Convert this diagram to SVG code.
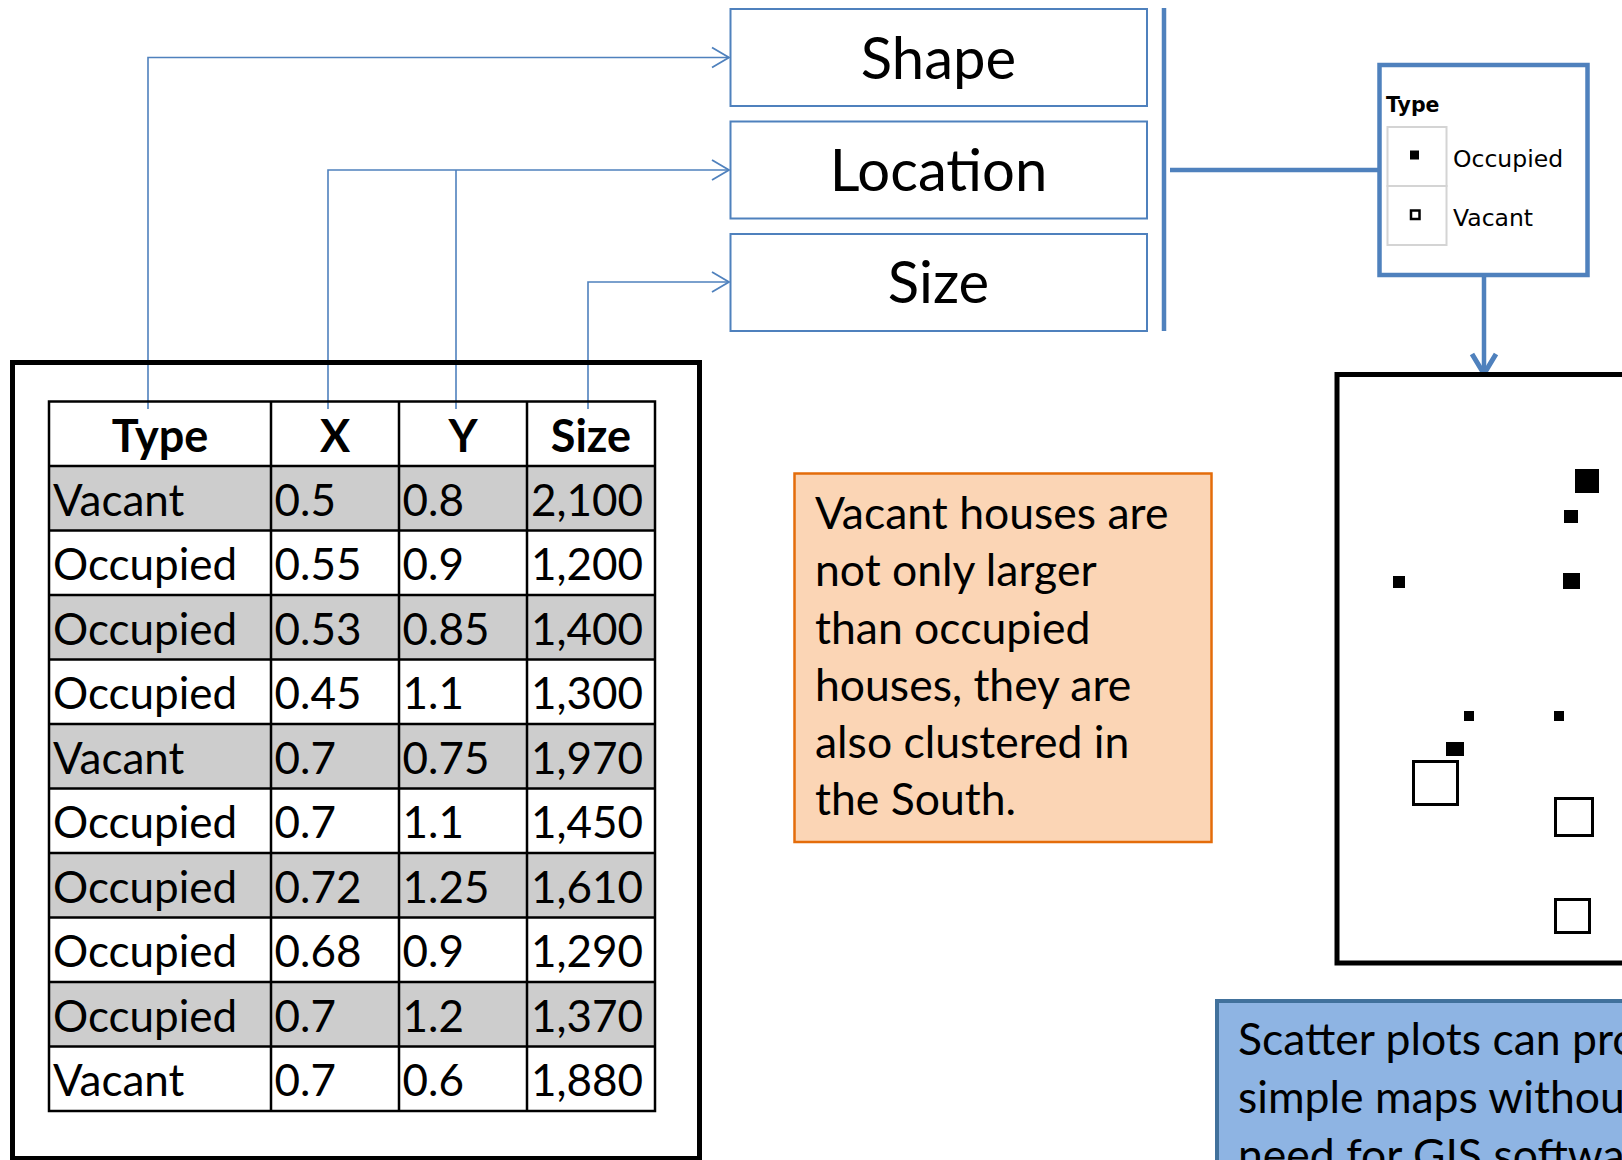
<svg xmlns="http://www.w3.org/2000/svg" width="1622" height="1160" viewBox="0 0 1622 1160">
<defs>
<style>
.t{font-family:Lato,"Liberation Sans",sans-serif;fill:#000}
.cell{font-size:44px}
.hdr{font-size:45px;font-weight:700;text-anchor:middle}
.box{fill:#fff;stroke:#4F81BD;stroke-width:2}
.big{font-size:58px;text-anchor:middle}
.note{font-size:44.5px}
.conn{fill:none;stroke:#4F81BD;stroke-width:1.6}
.thick{fill:none;stroke:#4F81BD;stroke-width:4.5}
.grid{fill:none;stroke:#000;stroke-width:2.5}
.gray{fill:#CDCDCD}
.lg{font-family:"DejaVu Sans",sans-serif;fill:#000}
</style>
<marker id="open" markerUnits="userSpaceOnUse" markerWidth="22" markerHeight="24" viewBox="0 0 22 24" refX="19" refY="12" orient="auto">
<path d="M2,2 L19,12 L2,22" fill="none" stroke="#4F81BD" stroke-width="1.8"/>
</marker>
<marker id="thickhead" markerUnits="userSpaceOnUse" markerWidth="30" markerHeight="30" viewBox="0 0 30 30" refX="24" refY="15" orient="auto">
<path d="M4,3 L24,15 L4,27" fill="none" stroke="#4F81BD" stroke-width="5"/>
</marker>
</defs>

<g id="connectors">
<path class="conn" d="M148,409 V57.5 H729" marker-end="url(#open)"/>
<path class="conn" d="M328,409 V170 H729" marker-end="url(#open)"/>
<path class="conn" d="M456,409 V170"/>
<path class="conn" d="M588,409 V282 H729" marker-end="url(#open)"/>
<path class="thick" d="M1164,8 V331"/>
<path class="thick" d="M1170,170 H1379"/>
<path class="thick" d="M1484,276 V374" marker-end="url(#thickhead)"/>
</g>

<g id="table">
<rect x="12.5" y="362.5" width="687" height="796" fill="none" stroke="#000" stroke-width="5"/>
<rect class="gray" x="49" y="466" width="606" height="64.5"/>
<rect class="gray" x="49" y="595" width="606" height="64.5"/>
<rect class="gray" x="49" y="724" width="606" height="64.5"/>
<rect class="gray" x="49" y="853" width="606" height="64.5"/>
<rect class="gray" x="49" y="982" width="606" height="64.5"/>
<rect class="grid" x="49" y="401.5" width="606" height="709.5"/>
<path class="grid" d="M271,401.5 V1111 M399,401.5 V1111 M527,401.5 V1111 M49,466 H655 M49,530.5 H655 M49,595 H655 M49,659.5 H655 M49,724 H655 M49,788.5 H655 M49,853 H655 M49,917.5 H655 M49,982 H655 M49,1046.5 H655"/>
<g class="t hdr">
<text x="160" y="452">Type</text>
<text x="335" y="452">X</text>
<text x="463" y="452">Y</text>
<text x="591" y="452">Size</text>
</g>
<g class="t cell">
<text x="53" y="515.5">Vacant</text><text x="274.5" y="515.5">0.5</text><text x="402.5" y="515.5">0.8</text><text x="531" y="515.5">2,100</text>
<text x="53" y="580">Occupied</text><text x="274.5" y="580">0.55</text><text x="402.5" y="580">0.9</text><text x="531" y="580">1,200</text>
<text x="53" y="644.5">Occupied</text><text x="274.5" y="644.5">0.53</text><text x="402.5" y="644.5">0.85</text><text x="531" y="644.5">1,400</text>
<text x="53" y="709">Occupied</text><text x="274.5" y="709">0.45</text><text x="402.5" y="709">1.1</text><text x="531" y="709">1,300</text>
<text x="53" y="773.5">Vacant</text><text x="274.5" y="773.5">0.7</text><text x="402.5" y="773.5">0.75</text><text x="531" y="773.5">1,970</text>
<text x="53" y="838">Occupied</text><text x="274.5" y="838">0.7</text><text x="402.5" y="838">1.1</text><text x="531" y="838">1,450</text>
<text x="53" y="902.5">Occupied</text><text x="274.5" y="902.5">0.72</text><text x="402.5" y="902.5">1.25</text><text x="531" y="902.5">1,610</text>
<text x="53" y="967">Occupied</text><text x="274.5" y="967">0.68</text><text x="402.5" y="967">0.9</text><text x="531" y="967">1,290</text>
<text x="53" y="1031.5">Occupied</text><text x="274.5" y="1031.5">0.7</text><text x="402.5" y="1031.5">1.2</text><text x="531" y="1031.5">1,370</text>
<text x="53" y="1096">Vacant</text><text x="274.5" y="1096">0.7</text><text x="402.5" y="1096">0.6</text><text x="531" y="1096">1,880</text>
</g>
</g>

<g id="shape-box">
<rect class="box" x="730.5" y="9" width="416.5" height="97"/>
<text class="t big" x="938.5" y="78.5">Shape</text>
</g>
<g id="location-box">
<rect class="box" x="730.5" y="121.5" width="416.5" height="97"/>
<text class="t big" x="938.5" y="191">Location</text>
</g>
<g id="size-box">
<rect class="box" x="730.5" y="234" width="416.5" height="97"/>
<text class="t big" x="938.5" y="303">Size</text>
</g>

<g id="legend">
<rect x="1379.5" y="65" width="208" height="210" fill="#fff" stroke="#4F81BD" stroke-width="4.5"/>
<text class="lg" x="1386" y="112" font-size="20.5" font-weight="700">Type</text>
<rect x="1387.5" y="127" width="59" height="59" fill="none" stroke="#D4D4D4" stroke-width="2"/>
<rect x="1387.5" y="186" width="59" height="59" fill="none" stroke="#D4D4D4" stroke-width="2"/>
<rect x="1410" y="150.5" width="9" height="9" fill="#000"/>
<rect x="1411" y="210.5" width="8.5" height="8.5" fill="none" stroke="#000" stroke-width="2.5"/>
<text class="lg" x="1453" y="167" font-size="23.5">Occupied</text>
<text class="lg" x="1453" y="226" font-size="23.5">Vacant</text>
</g>

<g id="scatter-plot">
<rect x="1337" y="374.5" width="400" height="588.5" fill="#fff" stroke="#000" stroke-width="5"/>
<rect x="1575" y="469" width="24" height="24" fill="#000"/>
<rect x="1564" y="510" width="14" height="13" fill="#000"/>
<rect x="1393" y="576" width="12" height="12" fill="#000"/>
<rect x="1563" y="573" width="17" height="16" fill="#000"/>
<rect x="1464" y="711" width="10" height="10" fill="#000"/>
<rect x="1554" y="711" width="10" height="10" fill="#000"/>
<rect x="1446" y="742" width="18" height="14" fill="#000"/>
<rect x="1413.5" y="761.5" width="44" height="43" fill="none" stroke="#000" stroke-width="3"/>
<rect x="1555.5" y="798.5" width="37" height="37" fill="none" stroke="#000" stroke-width="3"/>
<rect x="1555.5" y="899.5" width="34" height="33" fill="none" stroke="#000" stroke-width="3"/>
</g>

<g id="note-orange">
<rect x="794.5" y="473.5" width="417" height="368.5" fill="#FBD5B5" stroke="#E46C0A" stroke-width="2.5"/>
<g class="t note">
<text x="815" y="528.5">Vacant houses are</text>
<text x="815" y="586">not only larger</text>
<text x="815" y="643.5">than occupied</text>
<text x="815" y="700.5">houses, they are</text>
<text x="815" y="758">also clustered in</text>
<text x="815" y="815">the South.</text>
</g>
</g>

<g id="note-blue">
<rect x="1217" y="1001" width="500" height="300" fill="#8EB4E3" stroke="#41719C" stroke-width="4"/>
<g class="t note">
<text x="1238" y="1055">Scatter plots can produce</text>
<text x="1238" y="1113">simple maps without the</text>
<text x="1238" y="1171">need for GIS software.</text>
</g>
</g>
</svg>
